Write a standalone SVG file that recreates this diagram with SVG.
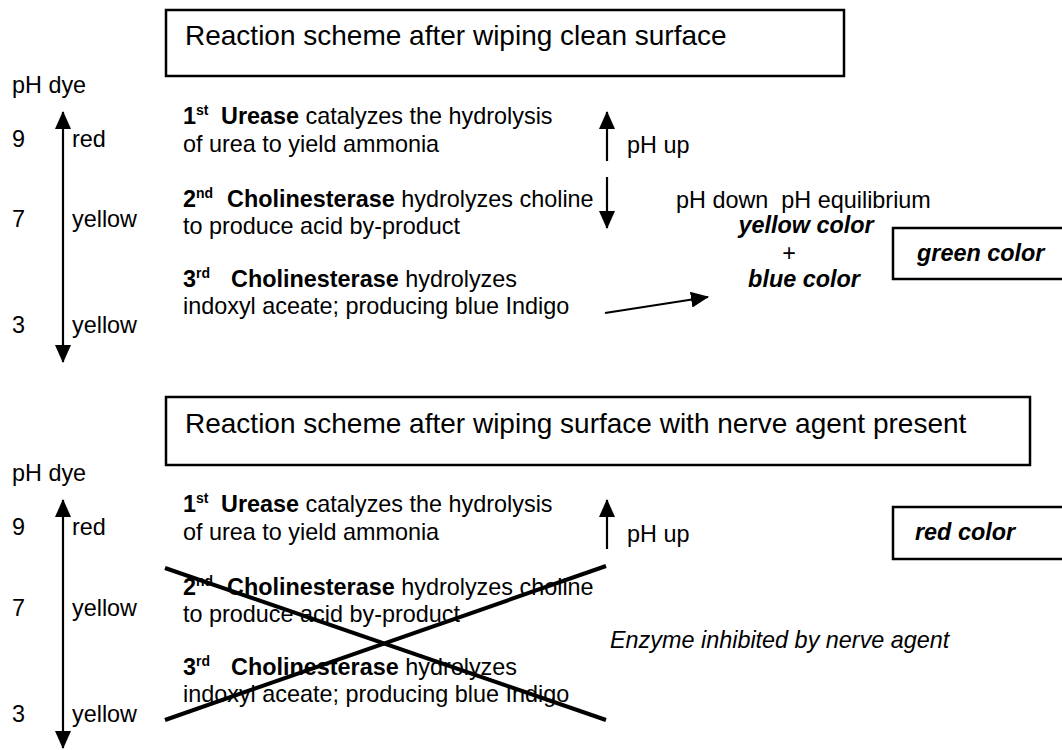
<svg xmlns="http://www.w3.org/2000/svg" width="1062" height="750" viewBox="0 0 1062 750">
<style>
text{font-family:"Liberation Sans",Arial,sans-serif;fill:#000;}
.t{font-size:23.4px;}
.title{font-size:28px;}
.b{font-weight:bold;}
.i{font-style:italic;}
.bi{font-weight:bold;font-style:italic;}
.sup{font-size:14px;font-weight:bold;}
.box{fill:#fff;stroke:#000;stroke-width:2.5;}
.ar{stroke:#000;stroke-width:2.2;fill:none;}
.x{stroke:#000;stroke-width:4;}
</style>
<defs>
<marker id="ah" viewBox="0 0 18 16" refX="17" refY="8" markerWidth="18" markerHeight="16" markerUnits="userSpaceOnUse" orient="auto-start-reverse">
<path d="M0,0 L18,8 L0,16 z" fill="#000"/>
</marker>
</defs>
<rect width="1062" height="750" fill="#fff"/>

<!-- Top section -->
<g id="title-clean">
<rect class="box" x="166" y="10" width="678" height="66"/>
<text class="title" x="185" y="45">Reaction scheme after wiping clean surface</text>
</g>
<g id="scale-top">
<text class="t" x="12" y="93">pH dye</text>
<text class="t" x="12" y="147">9</text>
<text class="t" x="72" y="147">red</text>
<text class="t" x="12" y="227">7</text>
<text class="t" x="72" y="227">yellow</text>
<text class="t" x="12" y="333">3</text>
<text class="t" x="72" y="333">yellow</text>
</g>
<g id="step1-top">
<text class="t" x="183" y="124"><tspan class="b">1</tspan><tspan class="sup" dy="-9">st</tspan><tspan class="b" x="221" dy="9">Urease</tspan> catalyzes the hydrolysis</text>
<text class="t" x="183" y="152">of urea to yield ammonia</text>
</g>
<g id="step2-top">
<text class="t" x="183" y="207"><tspan class="b">2</tspan><tspan class="sup" dy="-9">nd</tspan><tspan class="b" x="227" dy="9">Cholinesterase</tspan> hydrolyzes choline</text>
<text class="t" x="183" y="234">to produce acid by-product</text>
</g>
<g id="step3-top">
<text class="t" x="183" y="287"><tspan class="b">3</tspan><tspan class="sup" dy="-9">rd</tspan><tspan class="b" x="231" dy="9">Cholinesterase</tspan> hydrolyzes</text>
<text class="t" x="183" y="314">indoxyl aceate; producing blue Indigo</text>
</g>
<g id="ph-labels-top">
<text class="t" x="627" y="153">pH up</text>
<text class="t" x="676" y="208" xml:space="preserve">pH down  pH equilibrium</text>
</g>
<g id="mix">
<text class="t bi" x="806" y="233" text-anchor="middle">yellow color</text>
<text class="t" x="789" y="261" text-anchor="middle">+</text>
<text class="t bi" x="804" y="287" text-anchor="middle">blue color</text>
</g>
<g id="green">
<rect class="box" x="893" y="228" width="200" height="51"/>
<text class="t bi" x="917" y="261">green color</text>
</g>

<!-- Bottom section -->
<g id="title-nerve">
<rect class="box" x="166" y="397" width="864" height="68"/>
<text class="title" x="185" y="433">Reaction scheme after wiping surface with nerve agent present</text>
</g>
<g id="scale-bottom">
<text class="t" x="12" y="481">pH dye</text>
<text class="t" x="12" y="535">9</text>
<text class="t" x="72" y="535">red</text>
<text class="t" x="12" y="616">7</text>
<text class="t" x="72" y="616">yellow</text>
<text class="t" x="12" y="722">3</text>
<text class="t" x="72" y="722">yellow</text>
</g>
<g id="step1-bottom">
<text class="t" x="183" y="512"><tspan class="b">1</tspan><tspan class="sup" dy="-9">st</tspan><tspan class="b" x="221" dy="9">Urease</tspan> catalyzes the hydrolysis</text>
<text class="t" x="183" y="540">of urea to yield ammonia</text>
</g>
<g id="step2-bottom">
<text class="t" x="183" y="595"><tspan class="b">2</tspan><tspan class="sup" dy="-9">nd</tspan><tspan class="b" x="227" dy="9">Cholinesterase</tspan> hydrolyzes choline</text>
<text class="t" x="183" y="622">to produce acid by-product</text>
</g>
<g id="step3-bottom">
<text class="t" x="183" y="675"><tspan class="b">3</tspan><tspan class="sup" dy="-9">rd</tspan><tspan class="b" x="231" dy="9">Cholinesterase</tspan> hydrolyzes</text>
<text class="t" x="183" y="702">indoxyl aceate; producing blue Indigo</text>
</g>
<g id="ph-labels-bottom">
<text class="t" x="627" y="542">pH up</text>
</g>
<g id="inhibited">
<text class="t i" x="610" y="648">Enzyme inhibited by nerve agent</text>
</g>
<g id="red">
<rect class="box" x="893" y="507" width="200" height="52"/>
<text class="t bi" x="915" y="540">red color</text>
</g>

<g id="connectors">
<line class="ar" x1="63" y1="362" x2="63" y2="112" marker-start="url(#ah)" marker-end="url(#ah)"/>
<line class="ar" x1="607" y1="161" x2="607" y2="112" marker-end="url(#ah)"/>
<line class="ar" x1="607" y1="177" x2="607" y2="228" marker-end="url(#ah)"/>
<line class="ar" x1="605" y1="313" x2="708" y2="297" marker-end="url(#ah)"/>
<line class="ar" x1="63" y1="748" x2="63" y2="500" marker-start="url(#ah)" marker-end="url(#ah)"/>
<line class="ar" x1="607" y1="549" x2="607" y2="500" marker-end="url(#ah)"/>
<line class="x" x1="165" y1="568" x2="606" y2="720"/>
<line class="x" x1="165" y1="720" x2="606" y2="566"/>
</g>
</svg>
